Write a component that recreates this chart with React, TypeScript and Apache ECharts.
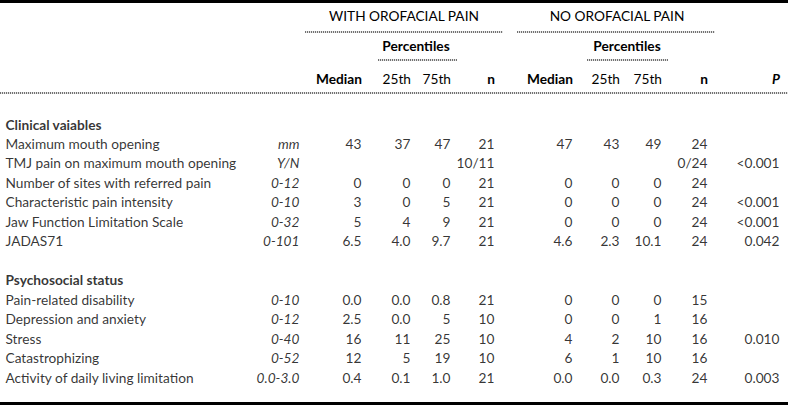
import React, { useEffect, useRef } from "react";
import * as echarts from "echarts";

// ---- Data ----
const clinicalVariables = [
  "Maximum mouth opening",
  "TMJ pain on maximum mouth opening",
  "Number of sites with referred pain",
  "Characteristic pain intensity",
  "Jaw Function Limitation Scale",
  "JADAS71",
];
const clinicalUnits = ["mm", "Y/N", "0-12", "0-10", "0-32", "0-101"];
const psychosocialVariables = [
  "Pain-related disability",
  "Depression and anxiety",
  "Stress",
  "Catastrophizing",
  "Activity of daily living limitation",
];
const psychosocialUnits = ["0-10", "0-12", "0-40", "0-52", "0.0-3.0"];
const sectionTitles = ["Clinical vaiables", "Psychosocial status"];
const groupTitles = ["WITH OROFACIAL PAIN", "NO OROFACIAL PAIN"];
const columnHeaders = ["Median", "25th", "75th", "n", "Median", "25th", "75th", "n", "P"];

const withMedian = ["43", "", "0", "3", "5", "6.5", "0.0", "2.5", "16", "12", "0.4"];
const with25th = ["37", "", "0", "0", "4", "4.0", "0.0", "0.0", "11", "5", "0.1"];
const with75th = ["47", "", "0", "5", "9", "9.7", "0.8", "5", "25", "19", "1.0"];
const withN = ["21", "10/11", "21", "21", "21", "21", "21", "10", "10", "10", "21"];
const noMedian = ["47", "", "0", "0", "0", "4.6", "0", "0", "4", "6", "0.0"];
const no25th = ["43", "", "0", "0", "0", "2.3", "0", "0", "2", "1", "0.0"];
const no75th = ["49", "", "0", "0", "0", "10.1", "0", "1", "10", "10", "0.3"];
const noN = ["24", "0/24", "24", "24", "24", "24", "15", "16", "16", "16", "24"];
const pValues = ["", "<0.001", "", "<0.001", "<0.001", "0.042", "", "", "0.010", "", "0.003"];

// ---- Layout (not data) ----
const W = 788;
const H = 405;
const FONT = "Lato";
const FS = 13.7;
const LABEL_X = 5;
const UNIT_X = 300;
const COL_X = [362, 411, 451, 495, 573, 620, 662, 708, 780];
const TEXT = "#000";

export default function App() {
  const ref = useRef<HTMLDivElement>(null);
  useEffect(() => {
    if (!ref.current) return;
    const chart = echarts.init(ref.current, null, { renderer: "svg" });

    const allVars = [...clinicalVariables, ...psychosocialVariables];
    const allUnits = [...clinicalUnits, ...psychosocialUnits];
    const rowIdx = (i: number) => (i < clinicalVariables.length ? i + 1 : i + 3);
    const nRows = clinicalVariables.length + psychosocialVariables.length + 3;
    const cats = Array.from({ length: nRows }, (_, i) => String(i));

    const baseLabel = {
      show: true,
      color: TEXT,
      fontFamily: FONT,
      fontSize: FS,
      formatter: "{b}",
    };
    const mk = (name: string, data: any[], label: any) => ({
      type: "scatter",
      name,
      silent: true,
      symbolSize: 1,
      itemStyle: { color: "rgba(0,0,0,0)" },
      data,
      label: { ...baseLabel, ...label },
    });

    const valueCols = [withMedian, with25th, with75th, withN, noMedian, no25th, no75th, noN, pValues];
    const series: any[] = [];
    series.push(
      mk(
        "sections",
        sectionTitles.map((t, k) => ({ name: t, value: [LABEL_X, k === 0 ? 0 : clinicalVariables.length + 2] })),
        { position: "right", distance: 0, fontWeight: "bold" }
      )
    );
    series.push(
      mk(
        "variables",
        allVars.map((t, i) => ({ name: t, value: [LABEL_X, rowIdx(i)] })),
        { position: "right", distance: 0 }
      )
    );
    series.push(
      mk(
        "units",
        allUnits.map((t, i) => ({ name: t, value: [UNIT_X, rowIdx(i)] })),
        { position: "left", distance: 0, fontStyle: "italic" }
      )
    );
    valueCols.forEach((col, c) => {
      series.push(
        mk(
          "col" + c,
          col
            .map((v, i) => ({ name: v, value: [COL_X[c], rowIdx(i)] }))
            .filter((d) => d.name !== ""),
          { position: "left", distance: 0 }
        )
      );
    });

    const line = (x1: number, x2: number, y: number) => ({
      type: "line",
      silent: true,
      shape: { x1, y1: y, x2, y2: y },
      style: { stroke: "#444", lineWidth: 1.6, lineDash: [1.2, 0.8] },
    });
    const txt = (text: string, x: number, y: number, align: string, extra: any = {}) => ({
      type: "text",
      silent: true,
      x,
      y,
      style: {
        text,
        fill: TEXT,
        font: `${extra.fontStyle || "normal"} ${extra.fontWeight || "normal"} ${FS}px ${FONT}`,
        textAlign: align,
        textVerticalAlign: "middle",
      },
    });

    const headerGraphics: any[] = [
      { type: "rect", silent: true, shape: { x: 0, y: 0, width: W, height: 3 }, style: { fill: "#000" } },
      { type: "rect", silent: true, shape: { x: 0, y: H - 3, width: W, height: 3 }, style: { fill: "#000" } },
      txt(groupTitles[0], 404, 15, "center"),
      txt(groupTitles[1], 617, 15, "center"),
      line(305, 503, 32),
      line(517, 715, 32),
      txt("Percentiles", 416, 45, "center", { fontWeight: "bold" }),
      txt("Percentiles", 627, 45, "center", { fontWeight: "bold" }),
      line(378, 457, 60),
      line(587, 668, 60),
      line(0, W, 93),
    ];
    columnHeaders.forEach((h, c) => {
      const bold = h === "Median" || h === "n" || h === "P";
      headerGraphics.push(
        txt(h, COL_X[c], 78, "right", {
          fontWeight: bold ? "bold" : "normal",
          fontStyle: h === "P" ? "italic" : "normal",
        })
      );
    });

    chart.setOption({
      animation: false,
      backgroundColor: "#fff",
      grid: { left: 0, right: 0, top: 114.3, height: 272.5 },
      xAxis: { type: "value", min: 0, max: W, show: false },
      yAxis: { type: "category", data: cats, inverse: true, show: false },
      series,
      graphic: headerGraphics,
    });
    return () => chart.dispose();
  }, []);
  return (
    <div
      ref={ref}
      style={{ position: "fixed", left: 0, top: 0, width: W, height: H, background: "#fff" }}
    />
  );
}
